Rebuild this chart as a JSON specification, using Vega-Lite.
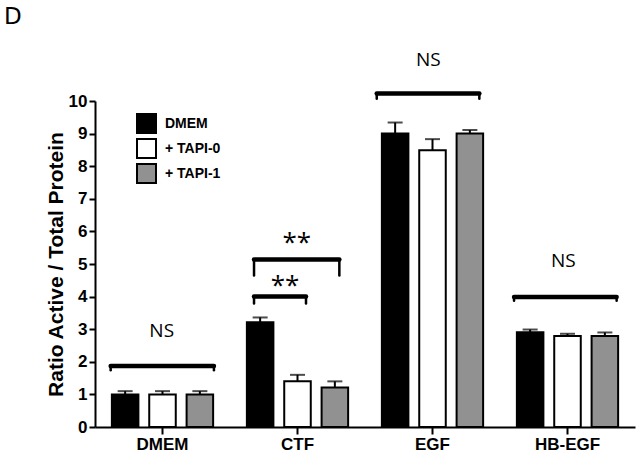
{
  "$schema": "https://vega.github.io/schema/vega-lite/v6.json",
  "autosize": {"type": "none"},
  "padding": {"left": 95, "top": 101, "right": 6, "bottom": 32},
  "width": 540,
  "height": 326,
  "title": {"text": "D", "anchor": "start", "frame": "group", "font": "DejaVu Sans", "fontSize": 23, "fontWeight": "normal", "color": "black", "dx": -91, "dy": -18},
  "config": {"view": {"stroke": null}, "font": "Liberation Sans"},
  "datasets": {
    "bars": [
      {"stimulus": "DMEM", "treatment": "DMEM", "mean": 1.0, "upper": 1.1},
      {"stimulus": "DMEM", "treatment": "+ TAPI-0", "mean": 1.0, "upper": 1.1},
      {"stimulus": "DMEM", "treatment": "+ TAPI-1", "mean": 1.0, "upper": 1.1},
      {"stimulus": "CTF", "treatment": "DMEM", "mean": 3.21, "upper": 3.36},
      {"stimulus": "CTF", "treatment": "+ TAPI-0", "mean": 1.4, "upper": 1.6},
      {"stimulus": "CTF", "treatment": "+ TAPI-1", "mean": 1.21, "upper": 1.4},
      {"stimulus": "EGF", "treatment": "DMEM", "mean": 9.0, "upper": 9.34},
      {"stimulus": "EGF", "treatment": "+ TAPI-0", "mean": 8.49, "upper": 8.83},
      {"stimulus": "EGF", "treatment": "+ TAPI-1", "mean": 9.0, "upper": 9.11},
      {"stimulus": "HB-EGF", "treatment": "DMEM", "mean": 2.91, "upper": 2.99},
      {"stimulus": "HB-EGF", "treatment": "+ TAPI-0", "mean": 2.79, "upper": 2.86},
      {"stimulus": "HB-EGF", "treatment": "+ TAPI-1", "mean": 2.79, "upper": 2.9}
    ],
    "brackets": [
      {"from": 0.116, "to": 0.881, "y": 1.87, "leg": 1.74},
      {"from": 1.178, "to": 1.81, "y": 5.14, "leg": 4.65},
      {"from": 1.178, "to": 1.563, "y": 4.0, "leg": 3.79},
      {"from": 2.087, "to": 2.847, "y": 10.23, "leg": 10.07},
      {"from": 3.104, "to": 3.864, "y": 3.99, "leg": 3.87}
    ],
    "ns": [
      {"pos": 0.494, "y": 2.96, "label": "NS"},
      {"pos": 2.469, "y": 11.27, "label": "NS"},
      {"pos": 3.469, "y": 5.1, "label": "NS"}
    ],
    "stars": [
      {"pos": 1.494, "y": 5.64, "label": "**"},
      {"pos": 1.407, "y": 4.34, "label": "**"}
    ]
  },
  "layer": [
    {
      "data": {"name": "bars"},
      "mark": {"type": "bar", "stroke": "black", "strokeWidth": 2},
      "encoding": {
        "x": {"field": "stimulus", "type": "nominal", "sort": ["DMEM", "CTF", "EGF", "HB-EGF"],
              "scale": {"paddingInner": 0.25, "paddingOuter": 0.125},
              "axis": {"title": null, "orient": "bottom", "labelAngle": 0, "domainColor": "black", "domainWidth": 2, "tickColor": "black", "tickWidth": 2, "tickSize": 7, "labelFont": "Liberation Sans", "labelFontSize": 17, "labelFontWeight": "bold", "labelColor": "black", "labelPadding": 2}},
        "xOffset": {"field": "treatment", "type": "nominal", "sort": ["DMEM", "+ TAPI-0", "+ TAPI-1"],
                    "scale": {"paddingInner": 0.29, "paddingOuter": 0}},
        "y": {"field": "mean", "type": "quantitative", "scale": {"domain": [0, 10], "nice": false},
              "axis": {"title": "Ratio Active / Total Protein", "orient": "left", "values": [0,1,2,3,4,5,6,7,8,9,10], "grid": false, "domainColor": "black", "domainWidth": 2, "tickColor": "black", "tickWidth": 2, "tickSize": 6, "labelFont": "Liberation Sans", "labelFontSize": 17, "labelFontWeight": "bold", "labelColor": "black", "labelPadding": 2, "titleFont": "Liberation Sans", "titleFontSize": 21, "titleFontWeight": "bold", "titleColor": "black", "titlePadding": 2}},
        "fill": {"field": "treatment", "type": "nominal",
                 "scale": {"domain": ["DMEM", "+ TAPI-0", "+ TAPI-1"], "range": ["black", "white", "#919191"]},
                 "legend": {"orient": "none", "legendX": 41, "legendY": 12, "title": null, "symbolType": "square", "symbolSize": 361, "symbolStrokeColor": "black", "symbolStrokeWidth": 2, "symbolOpacity": 1, "labelFont": "Liberation Sans", "labelFontSize": 14, "labelFontWeight": "bold", "labelColor": "black", "labelOffset": 8, "rowPadding": -2, "padding": 0}}
      }
    },
    {
      "data": {"name": "bars"},
      "mark": {"type": "rule", "color": "black", "strokeWidth": 2},
      "encoding": {
        "x": {"field": "stimulus", "type": "nominal", "sort": ["DMEM", "CTF", "EGF", "HB-EGF"], "scale": {"paddingInner": 0.25, "paddingOuter": 0.125}, "axis": null},
        "xOffset": {"field": "treatment", "type": "nominal", "sort": ["DMEM", "+ TAPI-0", "+ TAPI-1"], "scale": {"paddingInner": 0.29, "paddingOuter": 0}},
        "y": {"field": "mean", "type": "quantitative", "scale": {"domain": [0, 10], "nice": false}, "axis": null},
        "y2": {"field": "upper"}
      }
    },
    {
      "data": {"name": "bars"},
      "mark": {"type": "tick", "color": "black", "thickness": 2, "size": 15},
      "encoding": {
        "x": {"field": "stimulus", "type": "nominal", "sort": ["DMEM", "CTF", "EGF", "HB-EGF"], "scale": {"paddingInner": 0.25, "paddingOuter": 0.125}, "axis": null},
        "xOffset": {"field": "treatment", "type": "nominal", "sort": ["DMEM", "+ TAPI-0", "+ TAPI-1"], "scale": {"paddingInner": 0.29, "paddingOuter": 0}},
        "y": {"field": "upper", "type": "quantitative", "scale": {"domain": [0, 10], "nice": false}, "axis": null}
      }
    },
    {
      "data": {"name": "brackets"},
      "mark": {"type": "rule", "color": "black", "strokeWidth": 4.5, "strokeCap": "round"},
      "encoding": {
        "x": {"field": "from", "type": "quantitative", "scale": {"domain": [0, 4], "nice": false, "zero": false}, "axis": null},
        "x2": {"field": "to"},
        "y": {"field": "y", "type": "quantitative", "scale": {"domain": [0, 10], "nice": false}, "axis": null}
      }
    },
    {
      "data": {"name": "brackets"},
      "mark": {"type": "rule", "color": "black", "strokeWidth": 2.5, "strokeCap": "round"},
      "encoding": {
        "x": {"field": "from", "type": "quantitative", "scale": {"domain": [0, 4], "nice": false, "zero": false}, "axis": null},
        "y": {"field": "y", "type": "quantitative", "scale": {"domain": [0, 10], "nice": false}, "axis": null},
        "y2": {"field": "leg"}
      }
    },
    {
      "data": {"name": "brackets"},
      "mark": {"type": "rule", "color": "black", "strokeWidth": 2.5, "strokeCap": "round"},
      "encoding": {
        "x": {"field": "to", "type": "quantitative", "scale": {"domain": [0, 4], "nice": false, "zero": false}, "axis": null},
        "y": {"field": "y", "type": "quantitative", "scale": {"domain": [0, 10], "nice": false}, "axis": null},
        "y2": {"field": "leg"}
      }
    },
    {
      "data": {"name": "ns"},
      "mark": {"type": "text", "font": "Open Sans", "fontSize": 19, "color": "black", "baseline": "middle", "align": "center"},
      "encoding": {
        "x": {"field": "pos", "type": "quantitative", "scale": {"domain": [0, 4], "nice": false, "zero": false}, "axis": null},
        "y": {"field": "y", "type": "quantitative", "scale": {"domain": [0, 10], "nice": false}, "axis": null},
        "text": {"field": "label"}
      }
    },
    {
      "data": {"name": "stars"},
      "mark": {"type": "text", "font": "Open Sans", "fontSize": 26, "color": "black", "baseline": "middle", "align": "center"},
      "encoding": {
        "x": {"field": "pos", "type": "quantitative", "scale": {"domain": [0, 4], "nice": false, "zero": false}, "axis": null},
        "y": {"field": "y", "type": "quantitative", "scale": {"domain": [0, 10], "nice": false}, "axis": null},
        "text": {"field": "label"}
      }
    }
  ],
  "resolve": {"scale": {"x": "independent"}, "axis": {"y": "independent"}}
}
